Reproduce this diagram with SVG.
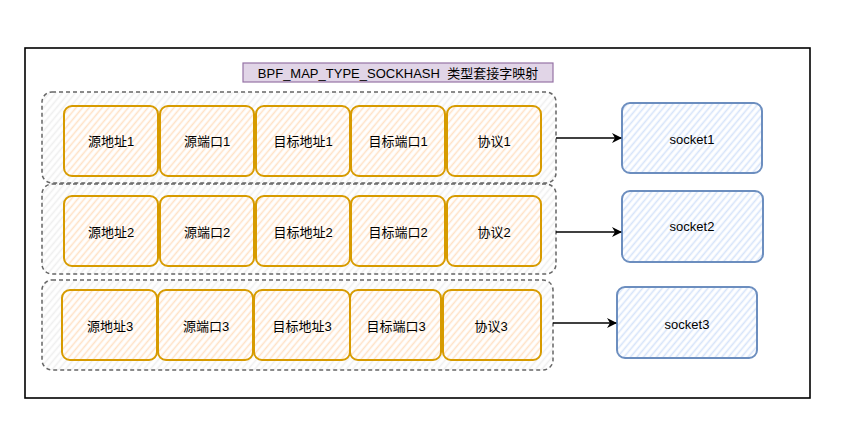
<svg xmlns="http://www.w3.org/2000/svg" width="854" height="433" viewBox="0 0 854 433">
<defs>
<pattern id="hO" width="5" height="5" patternUnits="userSpaceOnUse" patternTransform="rotate(-50)"><rect width="5" height="5" fill="#fff"/><line x1="0" y1="2.5" x2="5" y2="2.5" stroke="#ffe2c6" stroke-width="1.6"/></pattern>
<pattern id="hB" width="5" height="5" patternUnits="userSpaceOnUse" patternTransform="rotate(-50)"><rect width="5" height="5" fill="#fff"/><line x1="0" y1="2.5" x2="5" y2="2.5" stroke="#d6e4fa" stroke-width="1.6"/></pattern>
<pattern id="hG" width="5" height="5" patternUnits="userSpaceOnUse" patternTransform="rotate(-50)"><rect width="5" height="5" fill="#fff"/><line x1="0" y1="2.5" x2="5" y2="2.5" stroke="#efefef" stroke-width="1.6"/></pattern>
<marker id="arr" viewBox="0 0 10 10" refX="9" refY="5" markerWidth="10" markerHeight="10" markerUnits="userSpaceOnUse" orient="auto"><path d="M0,0 L10,5 L0,10 L3,5 Z" fill="#000"/></marker>
</defs>
<style>
text{font-family:"Liberation Sans","Noto Sans CJK SC",sans-serif;font-size:13px;fill:#000;text-anchor:middle;dominant-baseline:central}
.cell{fill:url(#hO);stroke:#d79b00;stroke-width:2}
.sock{fill:url(#hB);stroke:#6c8ebf;stroke-width:2}
.grp{fill:url(#hG);stroke:#666;stroke-width:1.5;stroke-dasharray:4 3}
.edge{stroke:#000;stroke-width:1.3;fill:none;marker-end:url(#arr)}
</style>
<rect width="854" height="433" fill="#fff"/>
<g id="frame"><rect x="25" y="48" width="785" height="350" fill="none" stroke="#000" stroke-width="1.6"/></g>
<g id="title"><rect x="243" y="63" width="310" height="19" fill="#e1d5e7" stroke="#9673a6" stroke-width="1.2"/><text x="398" y="73" style="white-space:pre" xml:space="preserve">BPF_MAP_TYPE_SOCKHASH  类型套接字映射</text></g>
<g id="row1"><rect class="grp" x="42" y="92" width="514" height="91" rx="10"/></g>
<g id="row2"><rect class="grp" x="42" y="184" width="514" height="90" rx="10"/></g>
<g id="row3"><rect class="grp" x="42" y="280" width="511" height="90" rx="10"/></g>
<g id="r1c1"><rect class="cell" x="64" y="106" width="94" height="70" rx="8"/><text x="111" y="141">源地址1</text></g>
<g id="r1c2"><rect class="cell" x="160" y="106" width="94" height="70" rx="8"/><text x="207" y="141">源端口1</text></g>
<g id="r1c3"><rect class="cell" x="256" y="106" width="94" height="70" rx="8"/><text x="303" y="141">目标地址1</text></g>
<g id="r1c4"><rect class="cell" x="351" y="106" width="94" height="70" rx="8"/><text x="398" y="141">目标端口1</text></g>
<g id="r1c5"><rect class="cell" x="447" y="106" width="94" height="70" rx="8"/><text x="494" y="141">协议1</text></g>
<g id="r2c1"><rect class="cell" x="64" y="196" width="94" height="70" rx="8"/><text x="111" y="232">源地址2</text></g>
<g id="r2c2"><rect class="cell" x="160" y="196" width="94" height="70" rx="8"/><text x="207" y="232">源端口2</text></g>
<g id="r2c3"><rect class="cell" x="256" y="196" width="94" height="70" rx="8"/><text x="303" y="232">目标地址2</text></g>
<g id="r2c4"><rect class="cell" x="351" y="196" width="94" height="70" rx="8"/><text x="398" y="232">目标端口2</text></g>
<g id="r2c5"><rect class="cell" x="447" y="196" width="94" height="70" rx="8"/><text x="494" y="232">协议2</text></g>
<g id="r3c1"><rect class="cell" x="62" y="290" width="95" height="70" rx="8"/><text x="110" y="326">源地址3</text></g>
<g id="r3c2"><rect class="cell" x="158" y="290" width="95" height="70" rx="8"/><text x="206" y="326">源端口3</text></g>
<g id="r3c3"><rect class="cell" x="254" y="290" width="96" height="70" rx="8"/><text x="302" y="326">目标地址3</text></g>
<g id="r3c4"><rect class="cell" x="350" y="290" width="91" height="70" rx="8"/><text x="396" y="326">目标端口3</text></g>
<g id="r3c5"><rect class="cell" x="443" y="290" width="98" height="70" rx="8"/><text x="491" y="326">协议3</text></g>
<g id="socket1"><rect class="sock" x="622" y="103" width="140" height="70" rx="8"/><text x="692" y="139">socket1</text></g>
<g id="socket2"><rect class="sock" x="622" y="191" width="141" height="71" rx="8"/><text x="692" y="226">socket2</text></g>
<g id="socket3"><rect class="sock" x="617" y="287" width="140" height="71" rx="8"/><text x="687" y="324">socket3</text></g>
<g id="connectors">
<line class="edge" x1="556" y1="138" x2="621" y2="138"/>
<line class="edge" x1="556" y1="232" x2="621" y2="232"/>
<line class="edge" x1="553" y1="323" x2="616" y2="323"/>
</g>
</svg>
